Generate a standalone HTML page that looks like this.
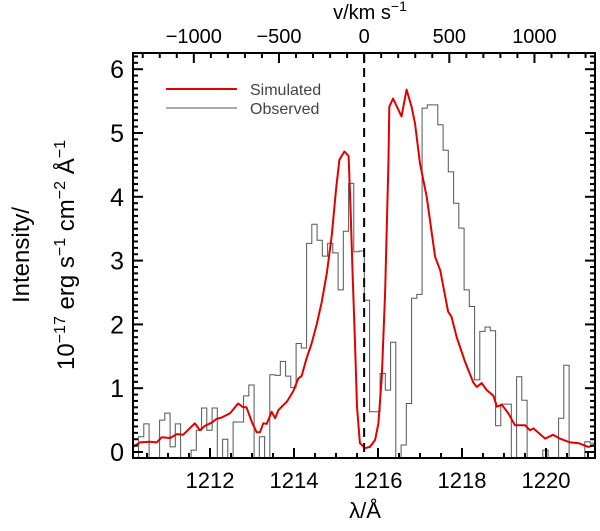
<!DOCTYPE html>
<html><head><meta charset="utf-8"><style>
html,body{margin:0;padding:0;background:#fff;}
svg{display:block;font-family:"Liberation Sans",sans-serif;}
</style></head><body>
<svg id="chart" width="600" height="531" viewBox="0 0 600 531" xmlns="http://www.w3.org/2000/svg">
<defs><clipPath id="plotclip"><rect x="133" y="53" width="462" height="405"/></clipPath></defs>
<g id="obs" clip-path="url(#plotclip)"></g>
<g id="sim" clip-path="url(#plotclip)"></g>
<line id="restline" stroke="#000" stroke-width="2" stroke-dasharray="9,6"/>
<g id="axes"></g>
<g>
<line x1="166" y1="89" x2="237" y2="89" stroke="#e00000" stroke-width="2"/>
<text x="250" y="95" font-size="16" fill="#444">Simulated</text>
<line x1="166" y1="108" x2="237" y2="108" stroke="#555" stroke-width="1"/>
<text x="250" y="114" font-size="16" fill="#444">Observed</text>
</g>
<text x="365" y="518" font-size="22" text-anchor="middle">λ/Å</text>
<text x="370" y="19" font-size="20" text-anchor="middle">v/km s<tspan dy="-8" font-size="14">−1</tspan></text>
<text transform="translate(29,255) rotate(-90)" font-size="24" text-anchor="middle">Intensity/</text>
<text transform="translate(74,255) rotate(-90)" font-size="24" text-anchor="middle">10<tspan dy="-9" font-size="16">−17</tspan><tspan dy="9"> erg s</tspan><tspan dy="-9" font-size="16">−1</tspan><tspan dy="9"> cm</tspan><tspan dy="-9" font-size="16">−2</tspan><tspan dy="9"> Å</tspan><tspan dy="-9" font-size="16">−1</tspan></text>
</svg>
<script>
const obsStart = 1210.174;
const obsBinWidth = 0.125;
const obsValues = [-0.1,0.24,0.44,-0.1,-0.1,0.50,0.61,0.08,0.44,-0.1,-0.1,0.03,0.34,0.69,0.34,0.69,-0.1,0.20,-0.1,0.47,0.47,0.88,1.05,-0.1,0.24,-0.1,1.21,1.20,1.42,1.19,1.01,1.70,1.63,3.27,3.57,3.32,3.07,3.27,3.12,2.54,3.46,4.21,3.14,3.15,2.38,0.63,0.63,1.23,0.97,1.72,-0.1,0.11,0.76,2.41,2.47,5.39,5.44,5.44,5.13,4.73,4.39,3.90,3.51,2.54,2.28,1.13,1.89,1.96,1.90,0.41,0.75,0.75,-0.1,1.18,0.81,-0.1,-0.1,-0.1,0.03,-0.1,-0.1,0.53,1.36,-0.1,-0.1,-0.1,0.16,0.14];
const simWave = [1210.17,1210.33,1210.57,1210.73,1210.85,1211.05,1211.21,1211.36,1211.64,1211.76,1211.88,1212.04,1212.16,1212.28,1212.48,1212.67,1212.79,1212.87,1212.99,1213.11,1213.19,1213.27,1213.35,1213.47,1213.55,1213.63,1213.83,1213.98,1214.10,1214.18,1214.30,1214.42,1214.54,1214.66,1214.78,1214.90,1215.00,1215.08,1215.20,1215.30,1215.35,1215.40,1215.45,1215.50,1215.57,1215.69,1215.81,1215.93,1216.01,1216.09,1216.17,1216.25,1216.27,1216.36,1216.56,1216.68,1216.80,1216.88,1217.00,1217.16,1217.36,1217.48,1217.67,1217.75,1217.87,1218.07,1218.27,1218.35,1218.47,1218.59,1218.75,1218.83,1218.95,1219.10,1219.26,1219.50,1219.62,1219.70,1219.98,1220.17,1220.33,1220.57,1220.77,1221.01,1221.17];
const simValues = [0.08,0.15,0.16,0.15,0.23,0.22,0.28,0.27,0.45,0.34,0.41,0.46,0.52,0.54,0.61,0.76,0.70,0.70,0.48,0.31,0.31,0.45,0.44,0.63,0.53,0.66,0.79,0.95,1.15,1.19,1.47,1.70,2.00,2.35,2.80,3.40,4.11,4.58,4.71,4.64,3.74,2.70,1.76,0.71,0.14,0.06,0.08,0.19,0.45,1.18,2.49,4.58,5.41,5.54,5.26,5.68,5.41,5.15,4.52,4.00,3.06,2.85,2.20,2.12,1.81,1.42,1.09,1.02,1.08,0.97,0.88,0.71,0.74,0.61,0.42,0.42,0.34,0.37,0.21,0.27,0.21,0.15,0.14,0.08,0.11];
const xTickLabels = [1212,1214,1216,1218,1220];
const yTickLabels = [0,1,2,3,4,5,6];
const vTickLabels = [-1000,-500,0,500,1000];
const restWave = 1215.67;

const NS = "http://www.w3.org/2000/svg";
const X0 = 133, X1 = 595, Y0 = 53, Y1 = 458;
const xScale = l => 378 + (l - 1216) * 42;
const yScale = v => 452 - v * 63.8;
const vToWave = v => restWave * (1 + v / 299792.458);
function mk(tag, attrs, parent) { const e = document.createElementNS(NS, tag); for (const k in attrs) e.setAttribute(k, attrs[k]); parent.appendChild(e); return e; }

// observed histogram
let d = "";
obsValues.forEach((v, i) => {
  const xa = xScale(obsStart + i * obsBinWidth), xb = xScale(obsStart + (i + 1) * obsBinWidth), y = yScale(v);
  d += (i === 0 ? "M" : "L") + xa.toFixed(1) + "," + y.toFixed(1) + "L" + xb.toFixed(1) + "," + y.toFixed(1);
});
const op = mk("path", { d: d, fill: "none", stroke: "#555", "stroke-width": 1 }, document.getElementById("obs"));



// simulated line
const sp = mk("polyline", { points: simWave.map((w, i) => xScale(w).toFixed(1) + "," + yScale(simValues[i]).toFixed(1)).join(" "), fill: "none", stroke: "#e00000", "stroke-width": 2, "stroke-linejoin": "round" }, document.getElementById("sim"));



const rl = document.getElementById("restline");
rl.setAttribute("x1", xScale(restWave)); rl.setAttribute("x2", xScale(restWave));
rl.setAttribute("y1", Y0); rl.setAttribute("y2", Y1);

const ax = document.getElementById("axes");
const frame = mk("rect", { x: X0, y: Y0, width: X1 - X0, height: Y1 - Y0, fill: "none", stroke: "#000", "stroke-width": 2 }, ax);


// bottom minor ticks every 0.5 A
for (let l = 1210.5; l <= 1221; l += 0.5) {
  const x = xScale(l), major = Math.abs(l % 2) < 1e-6;
  const len = major ? 10 : 5;
  mk("line", { x1: x, x2: x, y1: Y1, y2: Y1 - len, stroke: "#000", "stroke-width": 2 }, ax);
}
xTickLabels.forEach(l => {
  const t = mk("text", { x: xScale(l), y: 488, "font-size": 22, "text-anchor": "middle" }, ax);
  t.textContent = l;
  
  
});
// y ticks
for (let i = 0; i <= 62; i++) {
  const v = i / 10, y = yScale(v);
  if (y < Y0 || y > Y1) continue;
  const len = (i % 10 === 0) ? 10 : 5;
  mk("line", { x1: X0, x2: X0 + len, y1: y, y2: y, stroke: "#000", "stroke-width": 2 }, ax);
  mk("line", { x1: X1, x2: X1 - len, y1: y, y2: y, stroke: "#000", "stroke-width": 2 }, ax);
}
yTickLabels.forEach(v => {
  const t = mk("text", { x: 124, y: yScale(v) + 9, "font-size": 25, "text-anchor": "end" }, ax);
  t.textContent = v;
  
  
});
// top velocity ticks
for (let v = -1300; v <= 1400; v += 100) {
  const x = xScale(vToWave(v));
  if (x < X0 || x > X1) continue;
  const len = (v % 500 === 0) ? 10 : 5;
  mk("line", { x1: x, x2: x, y1: Y0, y2: Y0 + len, stroke: "#000", "stroke-width": 2 }, ax);
}
vTickLabels.forEach(v => {
  const t = mk("text", { x: xScale(vToWave(v)), y: 43, "font-size": 20, "text-anchor": "middle" }, ax);
  t.textContent = v < 0 ? "−" + Math.abs(v) : v;
  
  
});
</script>
</body></html>
